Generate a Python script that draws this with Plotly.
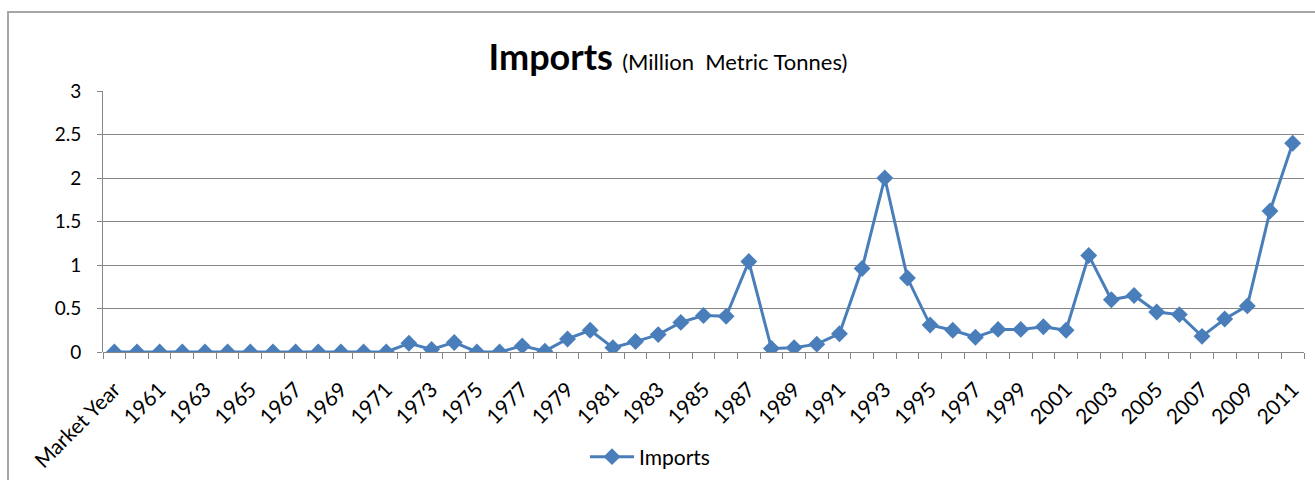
import plotly.graph_objects as go

categories = ["Market Year"] + [str(y) for y in range(1960, 2012)]
imports = [0.0,
           0.0, 0.0, 0.0, 0.0, 0.0, 0.0, 0.0, 0.0, 0.0, 0.0,   # 1960-1969
           0.0, 0.0, 0.10, 0.03, 0.11, 0.0, 0.0, 0.07, 0.01, 0.15,  # 1970-1979
           0.25, 0.05, 0.12, 0.20, 0.34, 0.42, 0.41, 1.04, 0.04, 0.05,  # 1980-1989
           0.09, 0.21, 0.96, 2.00, 0.85, 0.31, 0.25, 0.17, 0.26, 0.26,  # 1990-1999
           0.29, 0.25, 1.11, 0.60, 0.65, 0.46, 0.43, 0.18, 0.38, 0.53,  # 2000-2009
           1.62, 2.40]  # 2010-2011
y_ticks = [0, 0.5, 1, 1.5, 2, 2.5, 3]
y_tick_labels = ["0", "0.5", "1", "1.5", "2", "2.5", "3"]

idx = list(range(len(categories)))
shown_idx = idx[::2]
shown_labels = categories[::2]

FONT = "Lato, 'Open Sans', sans-serif"
BLUE = "#4A7EBB"
GREY = "#868686"

fig = go.Figure()
fig.add_trace(go.Scatter(
    x=idx, y=imports, mode="lines+markers", name="Imports",
    line=dict(color=BLUE, width=3),
    marker=dict(symbol="diamond", size=13, color=BLUE),
))

L, R, T, B = 103, 11, 91, 128
W, H = 1315, 480
pw, ph = W - L - R, H - T - B
xr = [-0.5, len(categories) - 0.5]

fig.update_layout(
    width=W, height=H,
    margin=dict(l=L, r=R, t=T, b=B, autoexpand=False),
    paper_bgcolor="white", plot_bgcolor="rgba(0,0,0,0)",
    font=dict(family=FONT, color="black", size=19),
    title=dict(
        text="<b>Imports</b> <span style='font-size:22px'>(Million  Metric Tonnes)</span>",
        font=dict(family=FONT, size=36, color="black"),
        x=668 / W, xanchor="center", y=1 - 57 / H, yanchor="middle",
    ),
    showlegend=True,
    legend=dict(orientation="h", x=(650 - L) / pw, xanchor="center",
                y=-(457 - 352) / ph, yanchor="middle",
                font=dict(size=21, color="black"), itemwidth=44,
                bgcolor="rgba(0,0,0,0)"),
    xaxis=dict(
        range=xr, automargin=False,
        tickmode="array", tickvals=shown_idx, ticktext=shown_labels,
        tickangle=-45, ticks="outside", ticklen=12, tickcolor="rgba(0,0,0,0)",
        showgrid=False, zeroline=False, showline=False,
        tickfont=dict(size=21), ticklabelstandoff=4,
        minor=dict(ticks="outside", tickmode="linear", tick0=-0.5, dtick=1,
                   ticklen=6, tickcolor=GREY, tickwidth=1, showgrid=False),
    ),
    yaxis=dict(
        range=[0, 3], tickmode="array", tickvals=y_ticks, ticktext=y_tick_labels,
        automargin=False,
        showgrid=True, gridcolor=GREY, gridwidth=1,
        zeroline=True, zerolinecolor=GREY, zerolinewidth=1,
        showline=True, linecolor=GREY, linewidth=1,
        ticks="outside", ticklen=5, tickcolor=GREY,
        tickfont=dict(size=19), ticklabelstandoff=12,
    ),
)

# outer chart border
fig.add_shape(type="rect", xref="paper", yref="paper",
              x0=(8 - L) / pw, x1=(W + 5 - L) / pw,
              y0=-(H + 5 - 352) / ph, y1=1 + (T - 12) / ph,
              line=dict(color="#A6A6A6", width=2), fillcolor="rgba(0,0,0,0)",
              layer="below")

fig.write_html("out.html")
